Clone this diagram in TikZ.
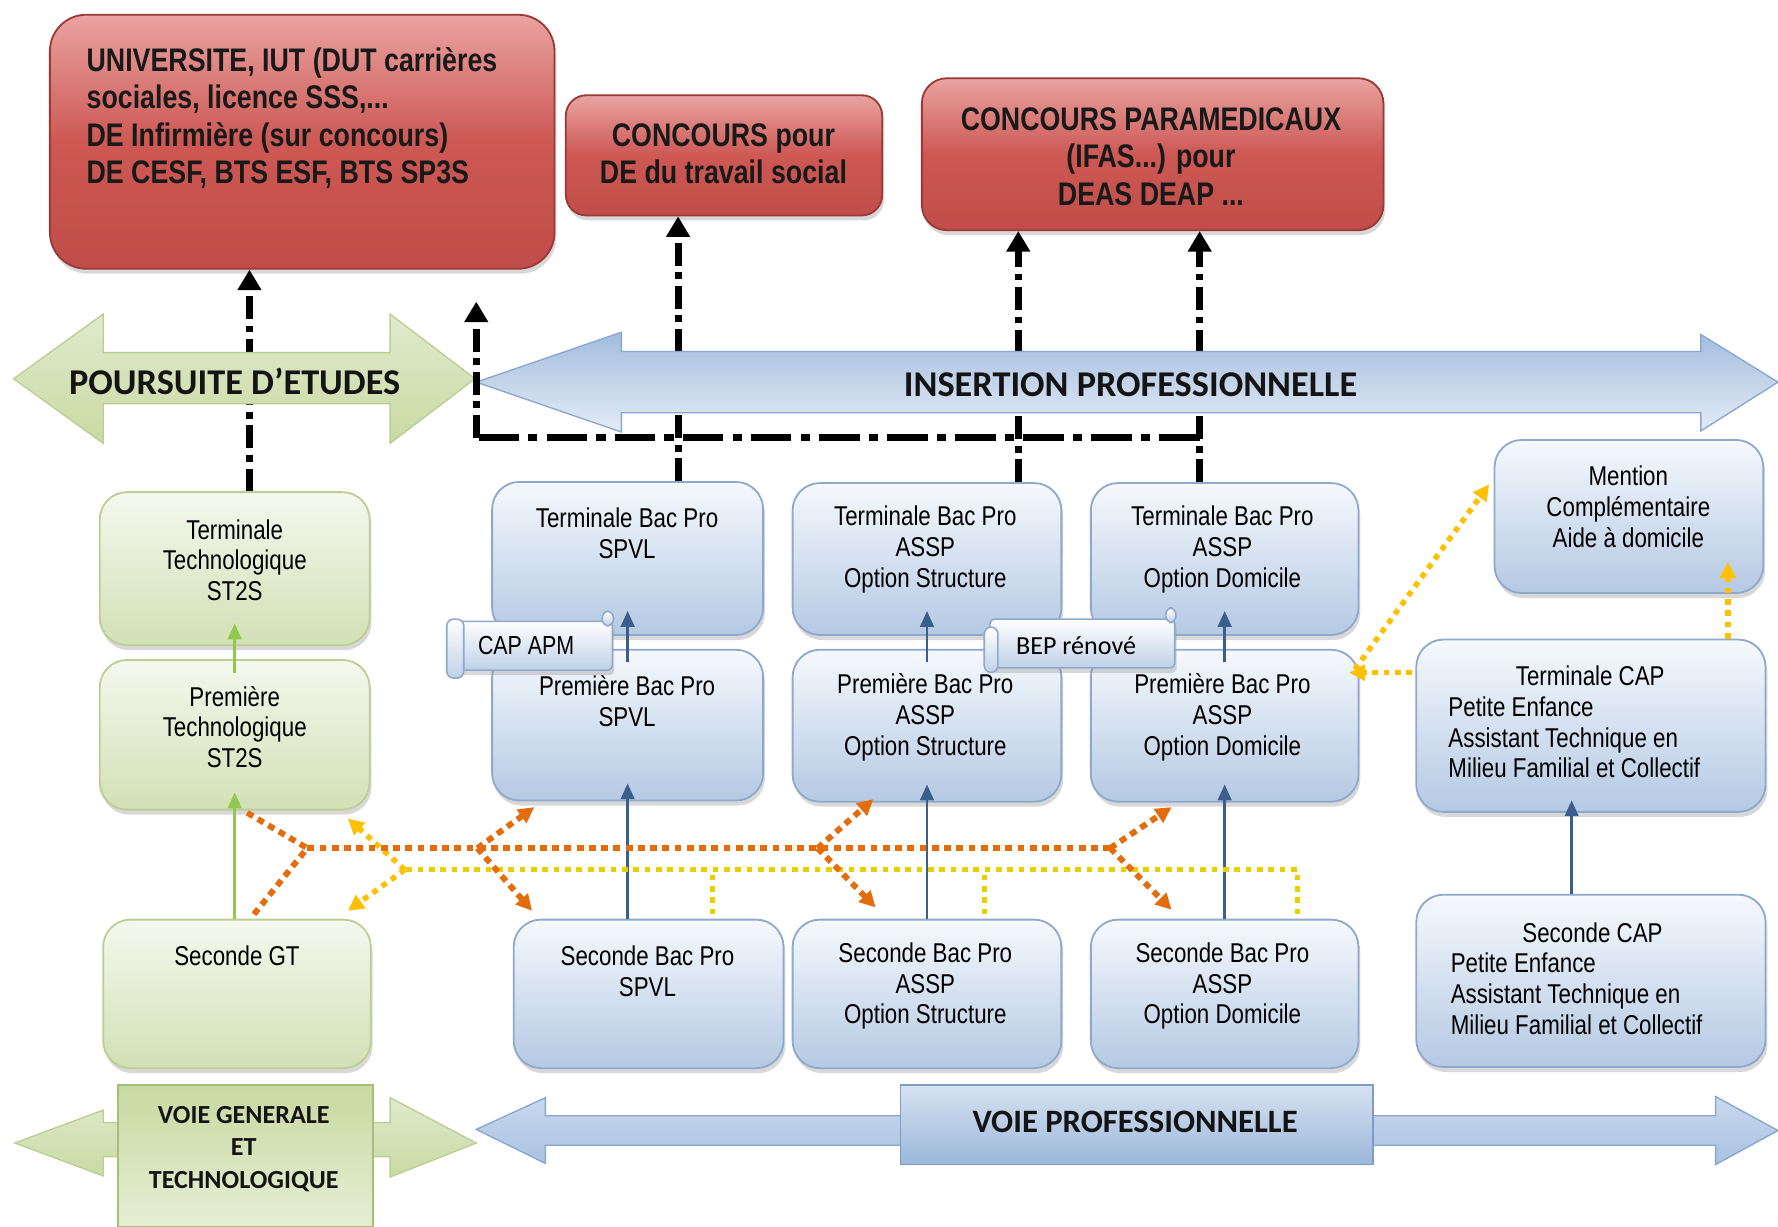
\documentclass[tikz,border=0pt]{standalone}
\usepackage{fontspec}
\newfontfamily\nar{Liberation Sans}[FakeStretch=0.82]
\newfontfamily\carl{Carlito}
\usetikzlibrary{arrows.meta,shadows,fit,calc}

\definecolor{redTop}{HTML}{E9A3A1}
\definecolor{redMid}{HTML}{CD5854}
\definecolor{redBot}{HTML}{C04D49}
\definecolor{redLine}{HTML}{9A3936}
\definecolor{bluTop}{HTML}{F6F9FD}
\definecolor{bluBot}{HTML}{B4C9E3}
\definecolor{bluLine}{HTML}{8FA9CC}
\definecolor{grnTop}{HTML}{F5F8EE}
\definecolor{grnBot}{HTML}{D2E0B5}
\definecolor{grnLine}{HTML}{BCCE93}
\definecolor{orng}{HTML}{E46C0A}
\definecolor{yelL}{HTML}{E6D000}
\definecolor{ambr}{HTML}{FFC000}
\definecolor{arrB}{HTML}{3B5E8C}
\definecolor{arrG}{HTML}{92C850}
\definecolor{bgTop}{HTML}{E0EACD}
\definecolor{bgBot}{HTML}{C9DAA2}
\definecolor{bgLine}{HTML}{BBCF95}
\definecolor{bbTop}{HTML}{A3BDDE}
\definecolor{bbBot}{HTML}{E4ECF6}
\definecolor{bbLine}{HTML}{8AA7CE}
\definecolor{scrBot}{HTML}{BFD1E8}
\definecolor{vgTop}{HTML}{C8D9A0}
\definecolor{vgBot}{HTML}{E6EED5}
\definecolor{vgLine}{HTML}{A5BE78}
\definecolor{vpTop}{HTML}{D6E2F1}
\definecolor{vpBot}{HTML}{9BB7DB}
\definecolor{vpLine}{HTML}{7E9CC6}
\definecolor{bsTop}{HTML}{C9D9EE}
\definecolor{bsBot}{HTML}{A9C1E0}

\tikzset{
  shad/.style={drop shadow={opacity=0.3, shadow xshift=0.8pt, shadow yshift=-2.2pt}},
  redbox/.style={draw=redLine, line width=0.8pt, top color=redTop, bottom color=redBot, middle color=redMid, inner sep=0, shad},
  blubox/.style={draw=bluLine, line width=0.8pt, top color=bluTop, bottom color=bluBot, rounded corners=12pt, inner sep=0, shad},
  grnbox/.style={draw=grnLine, line width=0.8pt, top color=grnTop, bottom color=grnBot, rounded corners=12pt, inner sep=0, shad},
  txt/.style={inner sep=0, align=center, text=black, font=\nar\fontsize{12}{13.5}\selectfont},
  redtxt/.style={inner sep=0, text=black!90, font=\nar\bfseries\fontsize{14.4}{16.5}\selectfont},
  bigtxt/.style={inner sep=0, text=black!92, font=\carl\bfseries\fontsize{16}{19}\selectfont},
  dd/.style={line width=3pt, black, dash pattern=on 10pt off 3pt on 3pt off 3pt},
  ddh/.style={line width=3pt, black, dash pattern=on 18pt off 4pt on 4pt off 4pt},
  ddtip/.style={-{Triangle[width=10pt,length=9pt]}},
  barr/.style={arrB, line width=1.1pt, -{Triangle[width=6pt,length=7pt]}},
  garr/.style={arrG, line width=1.1pt, -{Triangle[width=6pt,length=7pt]}},
  odot/.style={orng, line width=2.6pt, dash pattern=on 3pt off 2.4pt},
  oarr/.style={odot, -{Triangle[width=7pt,length=7pt]}},
  ydot/.style={yelL, line width=2.2pt, dash pattern=on 2.5pt off 2.5pt},
  yarr/.style={ambr, line width=2.4pt, dash pattern=on 2.5pt off 2.5pt, -{Triangle[width=7pt,length=7pt]}},
  bigG/.style={draw=bgLine, line width=0.6pt, top color=bgTop, bottom color=bgBot},
  bigB/.style={draw=bbLine, line width=0.6pt, top color=bbTop, bottom color=bbBot},
  bigB2/.style={draw=bbLine, line width=0.6pt, top color=bsTop, bottom color=bsBot},
  scrl/.style={draw=bluLine, line width=0.7pt, top color=white, bottom color=scrBot, rounded corners=2pt, inner sep=0, shad},
  scrlpart/.style={draw=bluLine, line width=0.7pt, top color=white, bottom color=scrBot, rounded corners=3pt},
}

\begin{document}
\begin{tikzpicture}[x=0.5pt,y=-0.5pt]
\useasboundingbox (0,0) rectangle (1568,1082);
\fill[white] (0,0) rectangle (1568,1082);

% ---------- red boxes
\node[redbox, rounded corners=16pt, fit={(44,13) (489,237)}] (univ) {};
\node[redbox, rounded corners=9pt, fit={(499,84) (778,190)}] (cp) {};
\node[redbox, rounded corners=11pt, fit={(813,69) (1220,203)}] (cpm) {};
\node[redtxt, anchor=west, align=left] (univt) at (76,104) {UNIVERSITE, IUT (DUT carrières\\sociales, licence SSS,...\\DE Infirmière (sur concours)\\DE CESF, BTS ESF, BTS SP3S};
\node[redtxt, align=center] (cpt) at (638,135.5) {CONCOURS pour\\DE du travail social};
\node[redtxt, align=center] (cpmt) at (1015,138) {CONCOURS PARAMEDICAUX\\(IFAS...) pour\\DEAS DEAP ...};

% ---------- green boxes
\node[grnbox, fit={(88,434) (326,569)}] (tt) {};
\node[grnbox, fit={(88,582) (326,714)}] (pt) {};
\node[grnbox, fit={(91,811) (327,942)}] (sgt) {};
\node[txt] (ttt) at (207,494) {Terminale\\Technologique\\ST2S};
\node[txt] (ptt) at (207,641) {Première\\Technologique\\ST2S};
\node[txt] (sgtt) at (209,843) {Seconde GT};

% ---------- blue boxes
\node[blubox, fit={(434,425) (673,560)}] (tspvl) {};
\node[blubox, fit={(434,573) (673,706)}] (pspvl) {};
\node[blubox, fit={(453,811) (691,942)}] (sspvl) {};
\node[blubox, fit={(699,426) (936,560)}] (tstr) {};
\node[blubox, fit={(699,573) (936,707)}] (pstr) {};
\node[blubox, fit={(699,811) (936,942)}] (sstr) {};
\node[blubox, fit={(962,426) (1198,560)}] (tdom) {};
\node[blubox, fit={(962,573) (1198,707)}] (pdom) {};
\node[blubox, fit={(962,811) (1198,942)}] (sdom) {};
\node[blubox, fit={(1318,388) (1555,523)}] (mc) {};
\node[blubox, fit={(1249,564) (1557,716)}] (tcap) {};
\node[blubox, fit={(1249,789) (1557,941)}] (scap) {};

\node[txt] (tspvlt) at (553,470.5) {Terminale Bac Pro\\SPVL};
\node[txt] (pspvlt) at (553,618.5) {Première Bac Pro\\SPVL};
\node[txt] (sspvlt) at (571,856.5) {Seconde Bac Pro\\SPVL};
\node[txt] (tstrt) at (816,484.5) {Terminale Bac Pro\\ASSP\\Option Structure};
\node[txt] (pstrt) at (816,632.5) {Première Bac Pro\\ASSP\\Option Structure};
\node[txt] (sstrt) at (816,869.5) {Seconde Bac Pro\\ASSP\\Option Structure};
\node[txt] (tdomt) at (1078,484.5) {Terminale Bac Pro\\ASSP\\Option Domicile};
\node[txt] (pdomt) at (1078,632.5) {Première Bac Pro\\ASSP\\Option Domicile};
\node[txt] (sdomt) at (1078,869.5) {Seconde Bac Pro\\ASSP\\Option Domicile};
\node[txt] (mct) at (1436,447) {Mention\\Complémentaire\\Aide à domicile};
\node[txt, anchor=west, align=left] (tcapt) at (1277,640) {\begin{tabular}{@{}l@{}}\multicolumn{1}{@{}c@{}}{\hspace*{14pt}Terminale CAP}\\Petite Enfance\\Assistant Technique en\\Milieu Familial et Collectif\end{tabular}};
\node[txt, anchor=west, align=left] (scapt) at (1279,866) {\begin{tabular}{@{}l@{}}\multicolumn{1}{@{}c@{}}{\hspace*{14pt}Seconde CAP}\\Petite Enfance\\Assistant Technique en\\Milieu Familial et Collectif\end{tabular}};

% ---------- dash-dot vertical connectors (under the big arrows)
\coordinate (a1) at ([xshift=6.5pt]tt.north);
\draw[dd, ddtip] (a1) -- (a1 |- univ.south);
\coordinate (a2) at ([xshift=22.25pt]tspvl.north);
\draw[dd, ddtip] (a2) -- (a2 |- cp.south);
\coordinate (a3) at ([xshift=40.25pt]tstr.north);
\draw[dd, ddtip] (a3) -- (a3 |- cpm.south);
\coordinate (a4) at ([xshift=-11pt]tdom.north);
\draw[dd, ddtip] (a4) -- (a4 |- cpm.south);

% ---------- big arrows (top)
\path[bigG] (12,334) -- (91,277) -- (91,311) -- (344,311) -- (344,277) -- (419,334) -- (344,391) -- (344,356) -- (91,356) -- (91,391) -- cycle;
\node[bigtxt] (poursuite) at (207,336) {POURSUITE D’ETUDES};
\path[bigB] (420,337) -- (548,293) -- (548,310) -- (1500,310) -- (1500,295) -- (1568,337) -- (1500,380) -- (1500,364) -- (548,364) -- (548,381) -- cycle;
\node[bigtxt] (insertion) at (997,339) {INSERTION PROFESSIONNELLE};

% ---------- dash-dot horizontal and up arrow
\coordinate (h1) at (420,386);
\coordinate (h2) at (a4 |- h1);
\coordinate (uptip) at (420,266);
\draw[ddh] (h2) -- (h1);
\draw[dd, ddtip] (h1) -- (uptip);

% ---------- solid arrows
\draw[garr] (sgt.north -| pt.south) -- ([yshift=8pt]pt.south);
\draw[garr] ([yshift=-6pt]pt.north) -- ([yshift=10pt]tt.south);
\draw[barr] (sspvl.north -| pspvl.south) -- ([yshift=8pt]pspvl.south);
\draw[barr] ([yshift=-6pt]pspvl.north) -- ([yshift=11pt]tspvl.south);
\draw[barr] (sstr.north -| pstr.south) -- ([yshift=8pt]pstr.south);
\draw[barr] ([yshift=-6pt]pstr.north) -- ([yshift=11pt]tstr.south);
\draw[barr] (sdom.north -| pdom.south) -- ([yshift=8pt]pdom.south);
\draw[barr] ([yshift=-6pt]pdom.north) -- ([yshift=11pt]tdom.south);
\draw[barr] ([xshift=-8.5pt]scap.north) -- ([xshift=-8.5pt,yshift=5.5pt]tcap.south);

% ---------- scrolls
\node[scrl, fit={(404,548) (540,591)}] (capapm) {};
\draw[scrlpart] (394,546) rectangle (409,598);
\draw[scrlpart] (531,539) rectangle (541,552);
\node[txt, font=\nar\fontsize{11.5}{13}\selectfont] (capapmt) at (464,569) {CAP APM};
\node[scrl, fit={(873,546) (1036,589)}] (bep) {};
\draw[scrlpart] (868,553) rectangle (880,593);
\draw[scrlpart] (1028,536) rectangle (1037,549);
\node[txt, font=\carl\fontsize{11.5}{13}\selectfont] (bept) at (949,569) {BEP rénové};

% ---------- yellow dotted
\coordinate (y1) at (357,767);
\draw[ydot] ($(sdom.north west)+(183,-4)$) |- (y1);
\draw[ydot] ($(sspvl.north west)+(176,-4)$) -- ++(0,-40);
\draw[ydot] ($(sstr.north west)+(170,-4)$) -- ++(0,-40);
\draw[yarr] (y1) -- ($(pt.south east)+(-20,7)$);
\draw[yarr] (y1) -- ($(sgt.north east)+(-21,-7)$);
\draw[yarr] ($(tcap.north west)+(-3,30)$) -- ($(pdom.north east)+(-9,21)$);
\draw[yarr] ($(pdom.north east)+(-4,18)$) -- ($(mc.north west)+(-4,40)$);
\draw[yarr] ($(tcap.north east)+(-34,0)$) -- ($(mc.south east)+(-32,-28)$);

% ---------- orange dotted
\coordinate (o1) at (271,748);
\coordinate (o2) at (421,748);
\coordinate (o3) at (721,748);
\coordinate (o4) at (979,748);
\draw[odot] ($(pt.south)+(11,2)$) -- (o1);
\draw[odot] ($(sgt.north)+(15,-4)$) -- (o1);
\draw[odot] (o1) -- (o4);
\draw[oarr] (o2) -- ($(pspvl.south west)+(38,5)$);
\draw[oarr] (o2) -- ($(sspvl.north west)+(17,-7)$);
\draw[oarr] (o3) -- ($(pstr.south west)+(72,-3)$);
\draw[oarr] (o3) -- ($(sstr.north west)+(74,-10)$);
\draw[oarr] (o4) -- ($(pdom.south west)+(72,4)$);
\draw[oarr] (o4) -- ($(sdom.north west)+(72,-8)$);

% ---------- bottom arrows
\path[bigG] (13,1008) -- (91,979) -- (91,990) -- (344,990) -- (344,968) -- (420,1008) -- (344,1038) -- (344,1020) -- (91,1020) -- (91,1037) -- cycle;
\node[draw=vgLine, line width=0.7pt, top color=vgTop, bottom color=vgBot, inner sep=0, fit={(104,957) (329,1082)}] (vg) {};
\node[inner sep=0, align=center, text=black!92, font=\carl\bfseries\fontsize{11.5}{14.3}\selectfont] (vgt) at (215,1013) {VOIE GENERALE\\ET\\TECHNOLOGIQUE};
\path[bigB2] (420,996) -- (481,968) -- (481,984) -- (1513,984) -- (1513,967) -- (1568,997) -- (1513,1027) -- (1513,1010) -- (481,1010) -- (481,1026) -- cycle;
\node[draw=vpLine, line width=0.7pt, top color=vpTop, bottom color=vpBot, inner sep=0, fit={(794,957) (1211,1027)}] (vp) {};
\node[inner sep=0, text=black!92, font=\carl\bfseries\fontsize{14.4}{17}\selectfont] (vpt) at (1001,989) {VOIE PROFESSIONNELLE};
\end{tikzpicture}
\end{document}
